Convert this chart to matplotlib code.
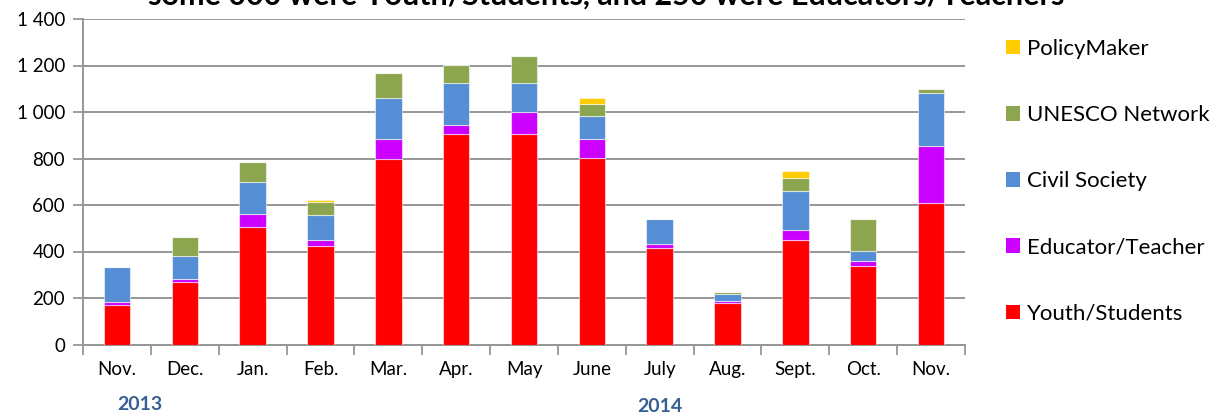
import matplotlib
matplotlib.use("Agg")
import matplotlib.pyplot as plt
from matplotlib.patches import Patch
from matplotlib.ticker import FuncFormatter, FixedLocator
import numpy as np

plt.rcParams['font.family'] = ['Lato', 'DejaVu Sans']

months = ["Nov.", "Dec.", "Jan.", "Feb.", "Mar.", "Apr.", "May", "June",
          "July", "Aug.", "Sept.", "Oct.", "Nov."]
youth = [169, 269, 505, 424, 800, 906, 904, 804, 415, 178, 449, 338, 608]
educator = [14, 12, 57, 27, 82, 36, 94, 78, 19, 10, 45, 20, 244]
civil = [150, 98, 136, 107, 177, 182, 126, 102, 104, 30, 165, 43, 229]
unesco = [2, 82, 85, 53, 109, 77, 116, 51, 0, 6, 56, 140, 17]
policy = [0, 0, 0, 11, 0, 0, 0, 26, 0, 0, 32, 0, 0]

series_names = ["Youth/Students", "Educator/Teacher", "Civil Society",
                "UNESCO Network", "PolicyMaker"]
series_vals = [youth, educator, civil, unesco, policy]
colors = ["#FF0000", "#CC00FF", "#558ED5", "#8BA64F", "#FFCC00"]

years = ["2013", "2014"]
title = "some 000 were Youth/Students, and 250 were Educators/Teachers"

W, H = 1215, 416
fig = plt.figure(figsize=(W / 100, H / 100), dpi=100)
ax_l, ax_r, ax_t, ax_b = 83, 965, 19, 344.5
ax = fig.add_axes([ax_l / W, (H - ax_b) / H, (ax_r - ax_l) / W, (ax_b - ax_t) / H])

x = np.arange(len(months))
bottom = np.zeros(len(months))
handles = []
for name, vals, col in zip(series_names, series_vals, colors):
    v = np.array(vals, dtype=float)
    ax.bar(x, v, width=0.39, bottom=bottom, color=col,
           edgecolor=(1, 1, 1, 0.55), linewidth=0.8, zorder=3)
    bottom += v
    handles.append(Patch(facecolor=col, edgecolor='none', label=name))

ax.set_xlim(-0.5, len(months) - 0.5)
ax.set_ylim(0, 1400)
ax.set_yticks(np.arange(0, 1401, 200))
ax.yaxis.set_major_formatter(FuncFormatter(lambda v, p: f"{int(v):,}".replace(",", " ")))
ax.grid(axis='y', color='#969696', linewidth=1.4, zorder=0)
ax.set_axisbelow(True)

ax.set_xticks(x)
ax.set_xticklabels(months)
ax.xaxis.set_minor_locator(FixedLocator(np.arange(-0.5, len(months), 1.0)))
ax.tick_params(axis='x', which='major', length=0, pad=12, labelsize=13.5)
ax.tick_params(axis='x', which='minor', length=7, width=1.3, color='#969696', direction='out')
ax.tick_params(axis='y', which='major', length=7, width=1.3, color='#969696', pad=6, labelsize=13.5)

for s in ['top', 'right']:
    ax.spines[s].set_visible(False)
for s in ['left', 'bottom']:
    ax.spines[s].set_color('#969696')
    ax.spines[s].set_linewidth(1.4)

fig.text(140 / W, 1 - 405 / H, years[0], ha='center', va='center',
         fontsize=14, fontweight='bold', color='#376092')
fig.text(660 / W, 1 - 407 / H, years[1], ha='center', va='center',
         fontsize=14, fontweight='bold', color='#376092')

fig.text(606 / W, 1 - 5 / H, title, ha='center', va='baseline',
         fontsize=22, fontweight='bold', color='black')

fig.legend(handles=handles[::-1], loc='upper left',
           bbox_to_anchor=(997 / W, 1 - 30 / H), frameon=False,
           fontsize=16, handlelength=0.63, handleheight=0.63,
           handletextpad=0.32, labelspacing=2.08, borderaxespad=0)

fig.savefig("out.png", dpi=100)
